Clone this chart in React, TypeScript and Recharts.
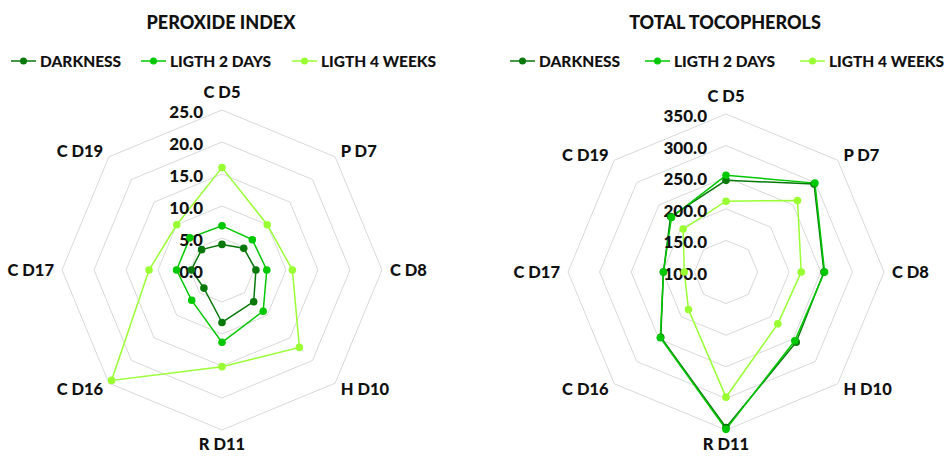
import React from "react";
import { RadarChart, Radar, PolarGrid, PolarAngleAxis, PolarRadiusAxis } from "recharts";

const categories = ["C D5", "P D7", "C D8", "H D10", "R D11", "C D16", "C D17", "C D19"];
const seriesNames = ["DARKNESS", "LIGTH 2 DAYS", "LIGTH 4 WEEKS"];
const seriesColors = ["#08780a", "#00c800", "#99ff33"];

const peroxideDarkness = [4.0, 4.8, 5.3, 7.0, 8.2, 4.0, 4.8, 4.5];
const peroxideLight2Days = [6.9, 6.7, 7.0, 9.1, 11.3, 6.7, 7.1, 7.1];
const peroxideLight4Weeks = [16.0, 10.0, 11.0, 17.1, 15.1, 24.4, 11.4, 10.0];

const tocoDarkness = [245, 297, 255, 257, 346, 246, 199, 224];
const tocoLight2Days = [253, 299, 256, 254, 349, 247, 199, 222];
const tocoLight4Weeks = [212, 260, 219, 216, 298, 184, 166, 196];

const peroxideDomain = [0, 25];
const tocoDomain = [100, 350];

const FONT = "Lato, 'Open Sans', sans-serif";

function buildData(a: number[], b: number[], c: number[]) {
  return categories.map((cat, i) => ({ cat, s0: a[i], s1: b[i], s2: c[i] }));
}

const peroxideData = buildData(peroxideDarkness, peroxideLight2Days, peroxideLight4Weeks);
const tocoData = buildData(tocoDarkness, tocoLight2Days, tocoLight4Weeks);

function makeAngleTick(cx: number, cy: number, R: number) {
  return (props: any) => {
    const idx = props.index ?? categories.indexOf(props.payload?.value);
    const ang = ((90 - idx * 45) * Math.PI) / 180;
    const c = Math.cos(ang);
    const s = Math.sin(ang);
    let x = cx + (R + 8) * c;
    let y = cy - (R + 8) * s;
    let anchor = "middle";
    if (c > 0.01) anchor = "start";
    else if (c < -0.01) anchor = "end";
    if (Math.abs(c) < 0.01) y += s > 0 ? -10 : 6;
    return (
      <text x={x} y={y} textAnchor={anchor} dominantBaseline="central" fontFamily={FONT} fontWeight={900} fontSize={16.5} fill="#111">
        {props.payload.value}
      </text>
    );
  };
}

const radiusTick = (props: any) => {
  const { x, y, payload } = props;
  return (
    <text x={x - 19} y={y + 1.5} textAnchor="end" dominantBaseline="central" fontFamily={FONT} fontWeight={900} fontSize={17} fill="#111">
      {Number(payload.value).toFixed(1)}
    </text>
  );
};

function makeDot(color: string) {
  return (props: any) => {
    const { cx, cy, index } = props;
    if (cx == null || cy == null) return <g key={index} />;
    return <circle key={index} cx={cx} cy={cy} r={3.8} fill={color} stroke="none" />;
  };
}

function Legend({ left, positions }: { left: number; positions: number[] }) {
  return (
    <>
      {seriesNames.map((n, i) => (
        <div key={n} style={{ position: "absolute", left: left + positions[i], top: 51, height: 20, display: "flex", alignItems: "center", whiteSpace: "nowrap" }}>
          <svg width={26} height={20} style={{ display: "block" }}>
            <line x1={0} y1={10} x2={25} y2={10} stroke={seriesColors[i]} strokeWidth={1.5} />
            <circle cx={12.5} cy={10} r={3.5} fill={seriesColors[i]} />
          </svg>
          <span style={{ fontFamily: FONT, fontWeight: 900, fontSize: 15.5, color: "#111", marginLeft: 3 }}>{n}</span>
        </div>
      ))}
    </>
  );
}

function Panel({ data, domain, cx, cy, R, title, left, legendLeft, legendPos, titleCenter }: any) {
  return (
    <div style={{ position: "absolute", left, top: 0, width: 473, height: 456 }}>
      <div style={{ position: "absolute", left: titleCenter - 200, width: 400, top: 11, textAlign: "center", fontFamily: FONT, fontWeight: 900, fontSize: 18, color: "#111" }}>
        {title}
      </div>
      <Legend left={legendLeft} positions={legendPos} />
      <div style={{ position: "absolute", left: 0, top: 0 }}>
        <RadarChart width={473} height={456} cx={cx} cy={cy} outerRadius={R} data={data} margin={{ top: 0, right: 0, bottom: 0, left: 0 }}>
          <PolarGrid gridType="polygon" radialLines={false} stroke="#d9d9d9" strokeWidth={1} />
          <PolarAngleAxis dataKey="cat" tick={makeAngleTick(cx, cy, R)} tickLine={false} axisLine={false} />
          {[0, 1, 2].map((i) => (
            <Radar
              key={i}
              name={seriesNames[i]}
              dataKey={`s${i}`}
              stroke={seriesColors[i]}
              strokeWidth={1.5}
              fill="none"
              fillOpacity={0}
              dot={makeDot(seriesColors[i])}
              isAnimationActive={false}
            />
          ))}
          <PolarRadiusAxis angle={90} domain={domain} tickCount={6} axisLine={false} tickLine={false} tick={radiusTick} />
        </RadarChart>
      </div>
    </div>
  );
}

export default function App() {
  return (
    <div style={{ position: "absolute", left: 0, top: 0, width: 946, height: 456, background: "#fff", overflow: "hidden" }}>
      <Panel data={peroxideData} domain={peroxideDomain} cx={222} cy={270} R={160} title="PEROXIDE INDEX" left={0} legendLeft={11} legendPos={[0, 130, 281]} titleCenter={221} />
      <Panel data={tocoData} domain={tocoDomain} cx={253} cy={272} R={158} title="TOTAL TOCOPHEROLS" left={473} legendLeft={37} legendPos={[0, 135, 290]} titleCenter={252} />
    </div>
  );
}
